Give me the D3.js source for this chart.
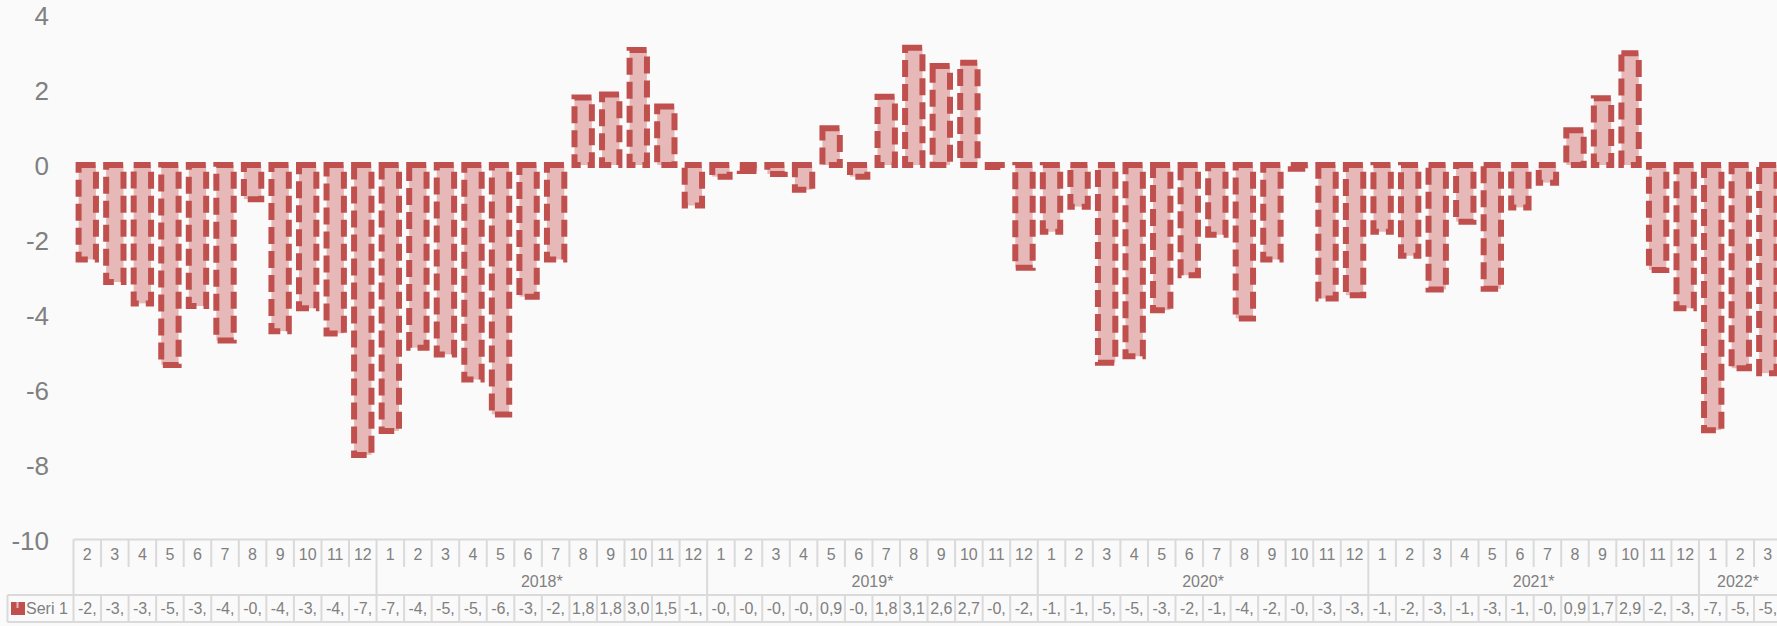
<!DOCTYPE html>
<html>
<head>
<meta charset="utf-8">
<script src="https://cdn.jsdelivr.net/npm/d3@7"></script>
<style>
  html, body { margin: 0; padding: 0; background: #fafafa; }
  svg { display: block; }
  text { font-family: "Liberation Sans", Arial, sans-serif; }
</style>
</head>
<body>
<svg id="chart" width="1777" height="626"></svg>
<script>
// ---- data ----
const yearLabels = ["", "2018*", "2019*", "2020*", "2021*", "2022*"];
const monthsPerYear = [
  [2,3,4,5,6,7,8,9,10,11,12],
  [1,2,3,4,5,6,7,8,9,10,11,12],
  [1,2,3,4,5,6,7,8,9,10,11,12],
  [1,2,3,4,5,6,7,8,9,10,11,12],
  [1,2,3,4,5,6,7,8,9,10,11,12],
  [1,2,3]
];
const values2017 = [-2.52, -3.12, -3.69, -5.33, -3.76, -4.68, -0.91, -4.43, -3.82, -4.49, -7.73];
const values2018 = [-7.09, -4.87, -5.05, -5.72, -6.65, -3.51, -2.52, 1.80, 1.88, 3.07, 1.56, -1.08];
const values2019 = [-0.31, -0.16, -0.24, -0.66, 0.98, -0.31, 1.82, 3.13, 2.64, 2.73, -0.05, -2.74];
const values2020 = [-1.78, -1.11, -5.27, -5.10, -3.87, -2.94, -1.86, -4.09, -2.52, -0.10, -3.56, -3.47];
const values2021 = [-1.78, -2.42, -3.32, -1.51, -3.30, -1.13, -0.47, 0.93, 1.78, 2.98, -2.80, -3.82];
const values2022 = [-7.07, -5.42, -5.55];
const seriesName = "Seri 1";
const yTicks = [4, 2, 0, -2, -4, -6, -8, -10];

const yearValues = [values2017, values2018, values2019, values2020, values2021, values2022];

// flatten
const rows = [];
yearValues.forEach((vals, yi) => {
  vals.forEach((v, mi) => rows.push({ year: yi, month: monthsPerYear[yi][mi], value: v, idx: rows.length }));
});

// ---- layout ----
const W = 1777, H = 626;
const x0 = 73.5, step = 27.55;
const x1 = x0 + rows.length * step;
const yTop = 15, yBottom = 540;
const tableTop = 539.5, monthRowBottom = 567, yearRowBottom = 595, seriBottom = 622;
const tableLeft = 7.5;

const fillCol = "#e6b9b8", strokeCol = "#c0504d";
const gridCol = "#dadada", textCol = "#808080";

const svg = d3.select("#chart");
svg.append("rect").attr("width", W).attr("height", H).attr("fill", "#fafafa");

const y = d3.scaleLinear().domain([-10, 4]).range([yBottom, yTop]);
const xBar = d3.scaleBand().domain(rows.map(d => d.idx)).range([x0, x1])
  .paddingInner(0.37).paddingOuter(0.185);
const xCell = d3.scaleBand().domain(rows.map(d => d.idx)).range([x0, x1]).padding(0);

// y axis labels (plain hyphen minus, as in the reference)
const yAxis = d3.axisLeft(y).tickValues(yTicks).tickSize(0).tickPadding(0)
  .tickFormat(d => String(d));
const gy = svg.append("g").attr("transform", "translate(49,0)").call(yAxis);
gy.select(".domain").remove();
gy.selectAll("text")
  .attr("font-size", 26).attr("fill", textCol)
  .attr("font-family", "'Liberation Sans', Arial, sans-serif")
  .attr("x", 0).attr("dy", "0.35em");

// bars
svg.append("g").selectAll("rect").data(rows).join("rect")
  .attr("x", d => xBar(d.idx))
  .attr("width", xBar.bandwidth())
  .attr("y", d => y(Math.max(0, d.value)))
  .attr("height", d => Math.abs(y(d.value) - y(0)))
  .attr("fill", fillCol)
  .attr("stroke", strokeCol)
  .attr("stroke-width", 6)
  .attr("stroke-dasharray", "17,7");

// ---- data table ----
const tg = svg.append("g");
const line = (xa, ya, xb, yb) => tg.append("line")
  .attr("x1", xa).attr("y1", ya).attr("x2", xb).attr("y2", yb)
  .attr("stroke", gridCol).attr("stroke-width", 2);

line(x0, tableTop, x1, tableTop);
line(tableLeft, yearRowBottom, x1, yearRowBottom);
line(tableLeft, seriBottom, x1, seriBottom);
line(tableLeft, yearRowBottom, tableLeft, seriBottom);

// year boundaries
const yearStart = [];
let acc = 0;
monthsPerYear.forEach(m => { yearStart.push(acc); acc += m.length; });

rows.forEach(d => {
  const xl = xCell(d.idx);
  const isYearStart = yearStart.includes(d.idx);
  line(xl, tableTop, xl, isYearStart ? yearRowBottom : monthRowBottom);
  line(xl, yearRowBottom, xl, seriBottom);
});

// month labels
tg.selectAll("text.month").data(rows).join("text")
  .attr("class", "month")
  .attr("x", d => xCell(d.idx) + xCell.bandwidth() / 2)
  .attr("y", 560)
  .attr("text-anchor", "middle")
  .attr("font-size", 16).attr("fill", textCol)
  .text(d => d.month);

// year labels (centred in the visible part of each group)
yearLabels.forEach((lab, yi) => {
  const a = xCell(yearStart[yi]);
  const b = Math.min(W, a + monthsPerYear[yi].length * step);
  tg.append("text")
    .attr("x", (a + b) / 2).attr("y", 587)
    .attr("text-anchor", "middle")
    .attr("font-size", 16).attr("fill", textCol)
    .text(lab);
});

// series values (clipped to cell width, comma decimal, hyphen minus)
const fmt = d3.format(".2f");
tg.selectAll("text.val").data(rows).join("text")
  .attr("class", "val")
  .attr("x", d => xCell(d.idx) + xCell.bandwidth() / 2)
  .attr("y", 614)
  .attr("text-anchor", "middle")
  .attr("font-size", 16).attr("fill", textCol)
  .text(d => fmt(d.value).replace("\u2212", "-").replace(".", ",").slice(0, 3));

// legend key
tg.append("rect").attr("x", 11).attr("y", 602).attr("width", 14).attr("height", 13)
  .attr("fill", strokeCol);
tg.append("rect").attr("x", 16.5).attr("y", 602).attr("width", 2).attr("height", 6)
  .attr("fill", fillCol);
tg.append("text").attr("x", 26).attr("y", 614)
  .attr("font-size", 16).attr("fill", textCol)
  .text(seriesName);
</script>
</body>
</html>
